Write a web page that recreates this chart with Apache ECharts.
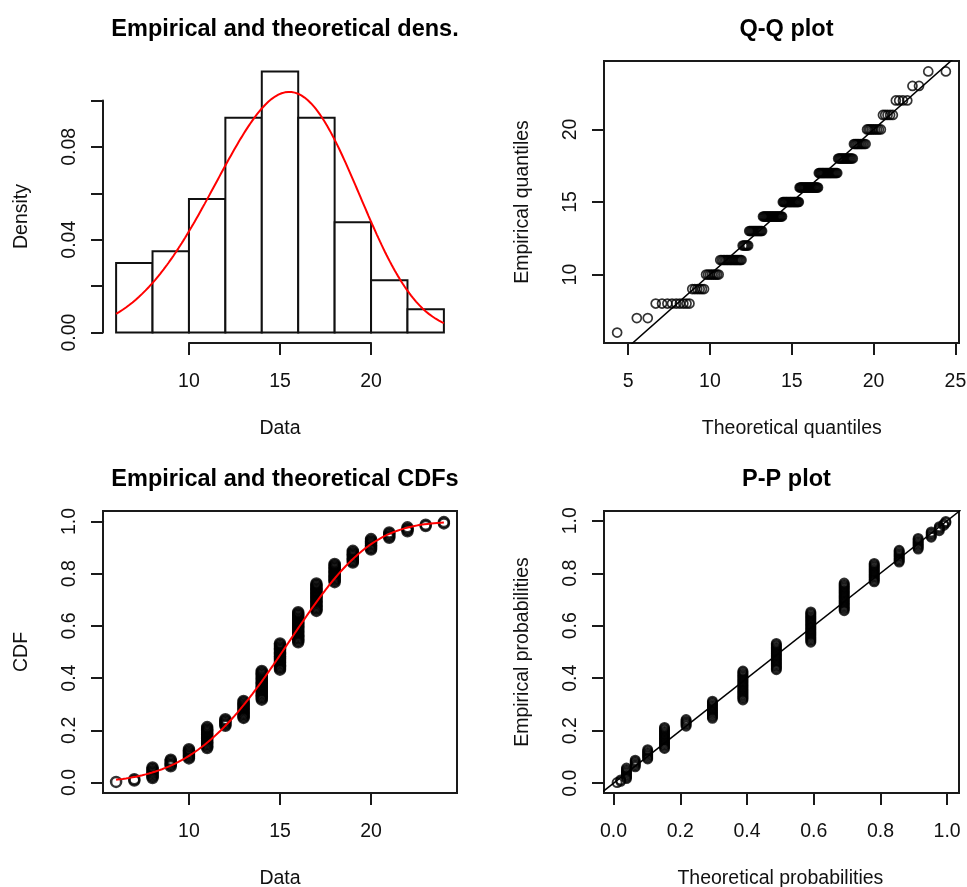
<!DOCTYPE html>
<html>
<head>
<meta charset="utf-8">
<script src="https://cdn.jsdelivr.net/npm/echarts@6/dist/echarts.min.js"></script>
<style>
  html, body { margin: 0; padding: 0; background: #fff; }
  #chart { width: 967px; height: 887px; }
</style>
</head>
<body>
<div id="chart"></div>
<script>
// observed integer values and how often each occurs (n = 200)
const values = [6, 7, 8, 9, 10, 11, 12, 13, 14, 15, 16, 17, 18, 19, 20, 21, 22, 23, 24];
const counts = [1, 2, 9, 6, 8, 17, 6, 14, 23, 21, 24, 22, 15, 10, 9, 5, 4, 2, 2];
// histogram breaks
const breaks = [6, 8, 10, 12, 14, 16, 18, 20, 22, 24];
// fitted weibull parameters
const weibullShape = 4.5;
const weibullScale = 16.4;
// tick values per panel
const histXTicks = [10, 15, 20];
const histYTicks = [0, 0.02, 0.04, 0.06, 0.08, 0.10];
const qqXTicks = [5, 10, 15, 20, 25];
const qqYTicks = [10, 15, 20];
const cdfXTicks = [10, 15, 20];
const cdfYTicks = [0, 0.2, 0.4, 0.6, 0.8, 1.0];
const ppXTicks = [0, 0.2, 0.4, 0.6, 0.8, 1.0];
const ppYTicks = [0, 0.2, 0.4, 0.6, 0.8, 1.0];

const font = "'Liberation Sans', Arial, Helvetica, sans-serif";
const axisFont = 19.5;

const dweib = x => (weibullShape / weibullScale) * Math.pow(x / weibullScale, weibullShape - 1) *
  Math.exp(-Math.pow(x / weibullScale, weibullShape));
const pweib = x => 1 - Math.exp(-Math.pow(x / weibullScale, weibullShape));
const qweib = p => weibullScale * Math.pow(-Math.log(1 - p), 1 / weibullShape);

// expand to the sorted sample
const obs = [];
values.forEach((v, i) => { for (let j = 0; j < counts[i]; j++) obs.push(v); });
const n = obs.length;
const probs = obs.map((_, i) => (i + 0.5) / n);

// histogram densities, right-closed bins like R's hist()
const histData = [];
for (let i = 0; i < breaks.length - 1; i++) {
  const a = breaks[i], b = breaks[i + 1];
  const c = obs.filter(x => (i === 0 ? x >= a : x > a) && x <= b).length;
  histData.push([a, b, c / (n * (b - a))]);
}

const xmin = obs[0], xmax = obs[n - 1];
const densCurve = [], cdfCurve = [];
for (let i = 0; i <= 200; i++) {
  const x = xmin + (xmax - xmin) * i / 200;
  densCurve.push([x, dweib(x)]);
  cdfCurve.push([x, pweib(x)]);
}
const qqData = obs.map((x, i) => [qweib(probs[i]), x]);
const ppData = obs.map((x, i) => [pweib(x), probs[i]]);
const cdfData = obs.map((x, i) => [x, probs[i]]);

const ext = (lo, hi) => [lo - 0.04 * (hi - lo), hi + 0.04 * (hi - lo)];
const ymaxHist = Math.max(...histData.map(d => d[2]), ...densCurve.map(d => d[1]));

const grids = [], xAxes = [], yAxes = [], titles = [];

function panel(p) {
  const { box, xlim, ylim, xt, yt } = p;
  const px = x => box.x0 + (x - xlim[0]) / (xlim[1] - xlim[0]) * (box.x1 - box.x0);
  const py = y => box.y1 - (y - ylim[0]) / (ylim[1] - ylim[0]) * (box.y1 - box.y0);
  const gBox = grids.length;
  grids.push({
    left: box.x0, top: box.y0, width: box.x1 - box.x0, height: box.y1 - box.y0,
    show: p.frame, borderColor: '#1a1a1a', borderWidth: 2, backgroundColor: 'transparent',
    outerBoundsMode: 'none', containLabel: false
  });
  const ax = xAxes.length;
  xAxes.push({ gridIndex: gBox, type: 'value', min: xlim[0], max: xlim[1], show: false });
  yAxes.push({ gridIndex: gBox, type: 'value', min: ylim[0], max: ylim[1], show: false });

  // second grid spanning only the tick range, so the axis lines run from first to last tick
  const left = px(xt[0]), right = px(xt[xt.length - 1]);
  const top = py(yt[yt.length - 1]), bottom = py(yt[0]);
  const gAx = grids.length;
  grids.push({ left: left, top: top, width: right - left, height: bottom - top,
    show: false, outerBoundsMode: 'none', containLabel: false });
  const line = { show: true, onZero: false, lineStyle: { color: '#1a1a1a', width: 2 } };
  const tick = { show: true, length: 12, lineStyle: { color: '#1a1a1a', width: 2 } };
  const txt = { fontSize: axisFont, color: '#111', fontFamily: font };
  xAxes.push({
    gridIndex: gAx, type: 'value', position: 'bottom',
    min: xt[0], max: xt[xt.length - 1], interval: xt[1] - xt[0],
    offset: box.y1 - bottom,
    axisLine: line, axisTick: tick, splitLine: { show: false },
    axisLabel: Object.assign({ margin: 29, formatter: p.xfmt }, txt),
    name: p.xname, nameLocation: 'middle', nameGap: 76, nameMoveOverlap: false,
    nameTextStyle: txt
  });
  yAxes.push({
    gridIndex: gAx, type: 'value', position: 'left',
    min: yt[0], max: yt[yt.length - 1], interval: yt[1] - yt[0],
    offset: left - box.x0,
    axisLine: line, axisTick: tick, splitLine: { show: false },
    axisLabel: Object.assign({ margin: 23, rotate: 90, formatter: p.yfmt }, txt),
    name: p.yname, nameLocation: 'middle', nameGap: 71, nameMoveOverlap: false,
    nameTextStyle: txt
  });
  titles.push({
    text: p.title, left: (box.x0 + box.x1) / 2, top: box.y0 - 48, textAlign: 'center',
    textStyle: { fontSize: 23.5, fontWeight: 'bold', color: '#000', fontFamily: font }
  });
  return ax;
}

const intFmt = v => String(Math.round(v));
const f1 = v => v.toFixed(1);

const hAx = panel({
  box: { x0: 103, x1: 457, y0: 61, y1: 343 }, frame: false,
  xlim: ext(breaks[0], breaks[breaks.length - 1]), ylim: [-0.04 * ymaxHist, 1.04 * ymaxHist],
  xt: histXTicks, yt: histYTicks, xname: 'Data', yname: 'Density',
  title: 'Empirical and theoretical dens.',
  xfmt: intFmt,
  yfmt: v => (Math.round(v * 100) % 4 === 0 ? v.toFixed(2) : '')
});
const qAx = panel({
  box: { x0: 604, x1: 959, y0: 61, y1: 343 }, frame: true,
  xlim: ext(qqData[0][0], qqData[n - 1][0]), ylim: ext(xmin, xmax),
  xt: qqXTicks, yt: qqYTicks, xname: 'Theoretical quantiles', yname: 'Empirical quantiles',
  title: 'Q-Q plot', xfmt: intFmt, yfmt: intFmt
});
const cAx = panel({
  box: { x0: 103, x1: 457, y0: 511, y1: 793 }, frame: true,
  xlim: ext(xmin, xmax), ylim: ext(0, 1),
  xt: cdfXTicks, yt: cdfYTicks, xname: 'Data', yname: 'CDF',
  title: 'Empirical and theoretical CDFs', xfmt: intFmt, yfmt: f1
});
const pAx = panel({
  box: { x0: 604, x1: 959, y0: 511, y1: 793 }, frame: true,
  xlim: ext(ppData[0][0], ppData[n - 1][0]), ylim: ext(probs[0], probs[n - 1]),
  xt: ppXTicks, yt: ppYTicks, xname: 'Theoretical probabilities', yname: 'Empirical probabilities',
  title: 'P-P plot', xfmt: f1, yfmt: f1
});

const ring = (w) => ({ color: 'rgba(0,0,0,0)', borderColor: '#000', borderWidth: w });

const chart = echarts.init(document.getElementById('chart'), null, { renderer: 'canvas' });
chart.setOption({
  animation: false,
  backgroundColor: '#fff',
  title: titles,
  grid: grids,
  xAxis: xAxes,
  yAxis: yAxes,
  series: [
    {
      type: 'custom', xAxisIndex: hAx, yAxisIndex: hAx, data: histData,
      encode: { x: [0, 1], y: 2 },
      renderItem: (params, api) => {
        const p0 = api.coord([api.value(0), api.value(2)]);
        const p1 = api.coord([api.value(1), 0]);
        return {
          type: 'rect',
          shape: { x: p0[0], y: p0[1], width: p1[0] - p0[0], height: p1[1] - p0[1] },
          style: { fill: '#fff', stroke: '#111', lineWidth: 2 }
        };
      }
    },
    {
      type: 'line', xAxisIndex: hAx, yAxisIndex: hAx, data: densCurve, showSymbol: false,
      lineStyle: { color: '#ff0000', width: 2 }, z: 5
    },
    {
      type: 'scatter', xAxisIndex: qAx, yAxisIndex: qAx, data: qqData,
      symbol: 'circle', symbolSize: 9, itemStyle: ring(1.7)
    },
    {
      type: 'line', xAxisIndex: qAx, yAxisIndex: qAx, data: [[0, 0], [30, 30]], showSymbol: false,
      lineStyle: { color: '#000', width: 1.5 }, clip: true
    },
    {
      type: 'scatter', xAxisIndex: cAx, yAxisIndex: cAx, data: cdfData,
      symbol: 'circle', symbolSize: 10, itemStyle: ring(2.5)
    },
    {
      type: 'line', xAxisIndex: cAx, yAxisIndex: cAx, data: cdfCurve, showSymbol: false,
      lineStyle: { color: '#ff0000', width: 2 }, z: 5
    },
    {
      type: 'scatter', xAxisIndex: pAx, yAxisIndex: pAx, data: ppData,
      symbol: 'circle', symbolSize: 9, itemStyle: ring(2)
    },
    {
      type: 'line', xAxisIndex: pAx, yAxisIndex: pAx, data: [[-1, -1], [2, 2]], showSymbol: false,
      lineStyle: { color: '#000', width: 1.5 }, clip: true
    }
  ]
});
</script>
</body>
</html>
